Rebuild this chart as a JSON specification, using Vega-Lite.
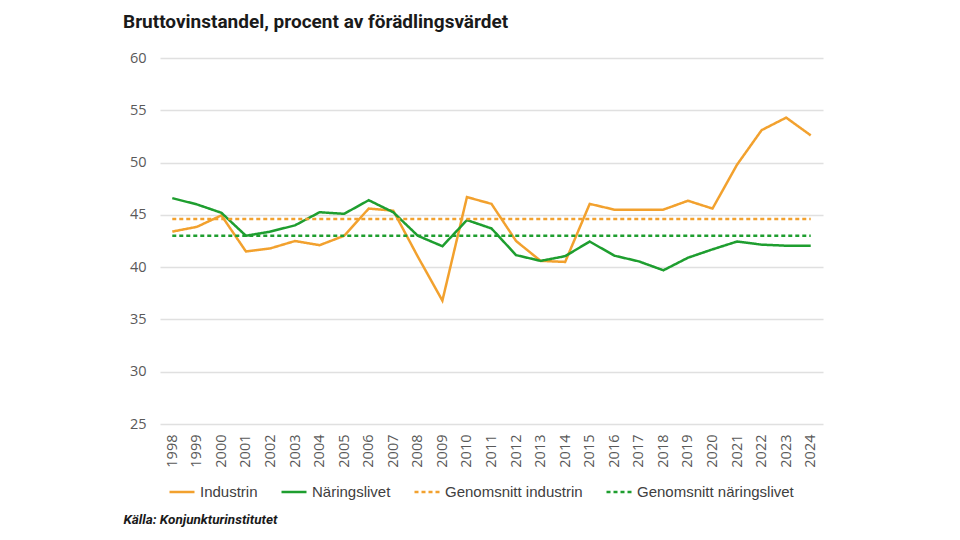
{
  "$schema": "https://vega.github.io/schema/vega-lite/v6.json",
  "width": 663,
  "height": 366,
  "autosize": {"type": "none"},
  "padding": {"left": 160, "top": 58, "right": 137, "bottom": 116},
  "background": "white",
  "title": {
    "text": "Bruttovinstandel, procent av förädlingsvärdet",
    "anchor": "start",
    "frame": "group",
    "dx": -37,
    "offset": 18,
    "font": "Roboto, sans-serif",
    "fontSize": 19,
    "fontWeight": "bold",
    "color": "#1a1a1a"
  },
  "data": {
    "values": [
      {"year": "1998", "serie": "Industrin", "value": 43.4},
      {"year": "1999", "serie": "Industrin", "value": 43.85},
      {"year": "2000", "serie": "Industrin", "value": 44.95},
      {"year": "2001", "serie": "Industrin", "value": 41.5},
      {"year": "2002", "serie": "Industrin", "value": 41.8},
      {"year": "2003", "serie": "Industrin", "value": 42.5},
      {"year": "2004", "serie": "Industrin", "value": 42.1},
      {"year": "2005", "serie": "Industrin", "value": 43.0},
      {"year": "2006", "serie": "Industrin", "value": 45.6},
      {"year": "2007", "serie": "Industrin", "value": 45.4},
      {"year": "2008", "serie": "Industrin", "value": 41.0},
      {"year": "2009", "serie": "Industrin", "value": 36.8},
      {"year": "2010", "serie": "Industrin", "value": 46.7},
      {"year": "2011", "serie": "Industrin", "value": 46.05},
      {"year": "2012", "serie": "Industrin", "value": 42.5},
      {"year": "2013", "serie": "Industrin", "value": 40.6},
      {"year": "2014", "serie": "Industrin", "value": 40.5},
      {"year": "2015", "serie": "Industrin", "value": 46.05},
      {"year": "2016", "serie": "Industrin", "value": 45.5},
      {"year": "2017", "serie": "Industrin", "value": 45.5},
      {"year": "2018", "serie": "Industrin", "value": 45.5},
      {"year": "2019", "serie": "Industrin", "value": 46.35},
      {"year": "2020", "serie": "Industrin", "value": 45.6},
      {"year": "2021", "serie": "Industrin", "value": 49.8},
      {"year": "2022", "serie": "Industrin", "value": 53.1},
      {"year": "2023", "serie": "Industrin", "value": 54.3},
      {"year": "2024", "serie": "Industrin", "value": 52.6},
      {"year": "1998", "serie": "Näringslivet", "value": 46.6},
      {"year": "1999", "serie": "Näringslivet", "value": 46.0},
      {"year": "2000", "serie": "Näringslivet", "value": 45.2},
      {"year": "2001", "serie": "Näringslivet", "value": 43.0},
      {"year": "2002", "serie": "Näringslivet", "value": 43.4},
      {"year": "2003", "serie": "Näringslivet", "value": 44.0},
      {"year": "2004", "serie": "Näringslivet", "value": 45.25},
      {"year": "2005", "serie": "Näringslivet", "value": 45.1},
      {"year": "2006", "serie": "Näringslivet", "value": 46.4},
      {"year": "2007", "serie": "Näringslivet", "value": 45.25},
      {"year": "2008", "serie": "Näringslivet", "value": 43.0},
      {"year": "2009", "serie": "Näringslivet", "value": 42.0},
      {"year": "2010", "serie": "Näringslivet", "value": 44.5},
      {"year": "2011", "serie": "Näringslivet", "value": 43.7},
      {"year": "2012", "serie": "Näringslivet", "value": 41.15},
      {"year": "2013", "serie": "Näringslivet", "value": 40.6},
      {"year": "2014", "serie": "Näringslivet", "value": 41.05},
      {"year": "2015", "serie": "Näringslivet", "value": 42.45},
      {"year": "2016", "serie": "Näringslivet", "value": 41.1},
      {"year": "2017", "serie": "Näringslivet", "value": 40.55},
      {"year": "2018", "serie": "Näringslivet", "value": 39.7},
      {"year": "2019", "serie": "Näringslivet", "value": 40.9},
      {"year": "2020", "serie": "Näringslivet", "value": 41.7},
      {"year": "2021", "serie": "Näringslivet", "value": 42.45},
      {"year": "2022", "serie": "Näringslivet", "value": 42.15},
      {"year": "2023", "serie": "Näringslivet", "value": 42.05},
      {"year": "2024", "serie": "Näringslivet", "value": 42.05},
      {"year": "1998", "serie": "Genomsnitt industrin", "value": 44.6},
      {"year": "2024", "serie": "Genomsnitt industrin", "value": 44.6},
      {"year": "1998", "serie": "Genomsnitt näringslivet", "value": 43.0},
      {"year": "2024", "serie": "Genomsnitt näringslivet", "value": 43.0}
    ]
  },
  "mark": {"type": "line", "strokeWidth": 2.5},
  "encoding": {
    "x": {
      "field": "year",
      "type": "ordinal",
      "scale": {"type": "point", "padding": 0.5},
      "axis": {
        "title": "Källa: Konjunkturinstitutet",
        "titleAnchor": "start",
        "titleAlign": "left",
        "titleX": -37,
        "titleY": 88,
        "titleFont": "Roboto, sans-serif",
        "titleFontSize": 13.5,
        "titleFontWeight": "bold",
        "titleFontStyle": "italic",
        "titleColor": "#1a1a1a",
        "labelAngle": -90,
        "labelFont": "Open Sans, sans-serif",
        "labelFontSize": 14.5,
        "labelColor": "#595959",
        "labelPadding": 10,
        "ticks": false,
        "domain": false,
        "grid": false
      }
    },
    "y": {
      "field": "value",
      "type": "quantitative",
      "scale": {"domain": [25, 60], "nice": false, "zero": false},
      "axis": {
        "title": null,
        "values": [25, 30, 35, 40, 45, 50, 55, 60],
        "labelFont": "Open Sans, sans-serif",
        "labelFontSize": 14.5,
        "labelColor": "#595959",
        "labelPadding": 14,
        "ticks": false,
        "domain": false,
        "grid": true,
        "gridColor": "#e0e0e0",
        "gridWidth": 1.5
      }
    },
    "color": {
      "field": "serie",
      "type": "nominal",
      "scale": {
        "domain": ["Industrin", "Näringslivet", "Genomsnitt industrin", "Genomsnitt näringslivet"],
        "range": ["#F2A12E", "#1E9E2F", "#F2A12E", "#1E9E2F"]
      },
      "legend": {
        "title": null,
        "orient": "none",
        "legendX": 8,
        "legendY": 420,
        "direction": "horizontal",
        "symbolType": "stroke",
        "symbolSize": 625,
        "symbolStrokeWidth": 2.5,
        "labelFont": "Liberation Sans, sans-serif",
        "labelFontSize": 15,
        "labelColor": "#404040",
        "labelOffset": 4,
        "labelLimit": 250,
        "columnPadding": 18
      }
    },
    "strokeDash": {
      "field": "serie",
      "type": "nominal",
      "scale": {
        "domain": ["Industrin", "Näringslivet", "Genomsnitt industrin", "Genomsnitt näringslivet"],
        "range": [[1, 0], [1, 0], [4, 3], [4, 3]]
      },
      "legend": null
    },
    "strokeWidth": {
      "field": "serie",
      "type": "nominal",
      "scale": {
        "domain": ["Industrin", "Näringslivet", "Genomsnitt industrin", "Genomsnitt näringslivet"],
        "range": [2.5, 2.5, 1.8, 1.8]
      },
      "legend": null
    }
  },
  "config": {
    "view": {"stroke": null}
  }
}
